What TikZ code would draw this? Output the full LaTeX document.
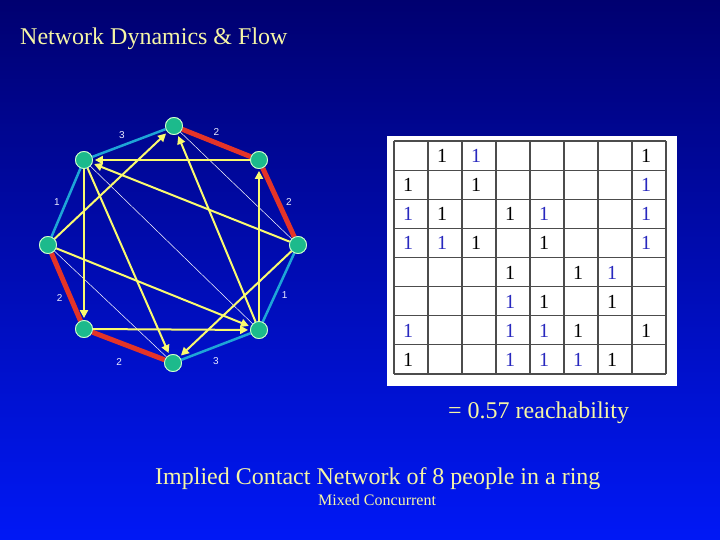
\documentclass[tikz,border=0pt]{standalone}
\usepackage{fontspec}
\setmainfont{Liberation Serif}
\newfontfamily\lblfont{Liberation Sans}
\usetikzlibrary{arrows.meta, positioning}
\definecolor{navytop}{RGB}{0,0,112}
\definecolor{bluebot}{RGB}{0,24,246}
\definecolor{pale}{RGB}{245,245,165}
\definecolor{person}{RGB}{28,186,140}
\definecolor{ringred}{RGB}{228,52,40}
\definecolor{ringcyan}{RGB}{30,165,215}
\definecolor{arrowyel}{RGB}{250,250,110}
\definecolor{cellblue}{RGB}{40,40,190}

\begin{document}
\begin{tikzpicture}[x=1pt, y=-1pt,
    person/.style={circle, fill=person, draw=green!20, line width=0.8pt, minimum size=17pt, inner sep=0pt},
    red2/.style={draw=ringred, line width=5pt},
    cyan1/.style={draw=ringcyan, line width=2.5pt},
    flow/.style={draw=arrowyel, line width=2pt, -{Triangle[length=8pt, width=8pt]}, shorten >=2pt},
    thin/.style={draw=white, line width=0.5pt},
    lbl/.style={font=\lblfont\fontsize{10}{11}\selectfont, text=white!92!blue, inner sep=1pt},
    big/.style={font=\fontsize{24}{28}\selectfont, text=pale, inner sep=0pt}]

    % fond bleu en degrade
    \shade[top color=navytop, bottom color=bluebot] (0,0) rectangle (720,540);
    \useasboundingbox (0,0) rectangle (720,540);

    % titre
    \node[big, anchor=base west] (title) at (20,45) {Network Dynamics \& Flow};

    % les 8 personnes sur l'anneau
    \node[person] (p1) at (174,126) {};
    \node[person] (p2) at (259,160) {};
    \node[person] (p3) at (298,245) {};
    \node[person] (p4) at (259,330) {};
    \node[person] (p5) at (173,363) {};
    \node[person] (p6) at (84,329) {};
    \node[person] (p7) at (48,245) {};
    \node[person] (p8) at (84,160) {};

    % liens de l'anneau avec leurs etiquettes
    \draw[red2] (p1) -- node[lbl, above=4pt] (e12) {2} (p2);
    \draw[red2] (p2) -- node[lbl, right=4pt] (e23) {2} (p3);
    \draw[cyan1] (p3) -- node[lbl, below right=2pt and 1pt] (e34) {1} (p4);
    \draw[cyan1] (p4) -- node[lbl, below=9pt] (e45) {3} (p5);
    \draw[red2] (p5) -- node[lbl, below left=9pt and 3pt] (e56) {2} (p6);
    \draw[red2] (p6) -- node[lbl, below left=4pt and 0pt] (e67) {2} (p7);
    \draw[cyan1] (p7) -- node[lbl, left=4pt] (e78) {1} (p8);
    \draw[cyan1] (p8) -- node[lbl, above left=2pt and 2pt] (e81) {3} (p1);

    % liens fins
    \draw[thin] (p1) -- (p3);
    \draw[thin] (p8) -- (p4);
    \draw[thin] (p7) -- (p5);

    % fleches de flux
    \draw[flow] (p2) -- (p8);
    \draw[flow] (p3) -- (p8);
    \draw[flow] (p7) -- (p1);
    \draw[flow] (p4) -- (p1);
    \draw[flow] (p4) -- (p2);
    \draw[flow] (p8) -- (p6);
    \draw[flow] (p8) -- (p5);
    \draw[flow] (p7) -- (p4);
    \draw[flow] (p6) -- (p4);
    \draw[flow] (p3) -- (p5);

    % redessiner les personnes au-dessus
    \foreach \p in {1,...,8}
        \node[person] at (p\p) {};

    % matrice d'atteignabilite
    \fill[white] (387,136) rectangle (677,386);
    \foreach \i in {0,...,8} {
        \draw[black!70, line width=1.2pt] (394+34*\i,141) -- (394+34*\i,374);
        \draw[black!70, line width=1.2pt] (394,141+29.125*\i) -- (666,141+29.125*\i);
    }
    \foreach \r/\c/\col in {1/2/black,1/3/cellblue,1/8/black,
                            2/1/black,2/3/black,2/8/cellblue,
                            3/1/cellblue,3/2/black,3/4/black,3/5/cellblue,3/8/cellblue,
                            4/1/cellblue,4/2/cellblue,4/3/black,4/5/black,4/8/cellblue,
                            5/4/black,5/6/black,5/7/cellblue,
                            6/4/cellblue,6/5/black,6/7/black,
                            7/1/cellblue,7/4/cellblue,7/5/cellblue,7/6/black,7/8/black,
                            8/1/black,8/4/cellblue,8/5/cellblue,8/6/cellblue,8/7/black}
        \node[text=\col, font=\fontsize{20}{22}\selectfont, inner sep=0pt]
            (m-\r-\c) at (408+34*\c-34, 156+29.125*\r-29.125) {1};

    % textes du bas
    \node[big, anchor=base west] (reach) at (448,418) {= 0.57 reachability};
    \node[big, anchor=base west] (caption) at (155,484) {Implied Contact Network of 8 people in a ring};
    \node[text=pale, font=\fontsize{16}{18}\selectfont, inner sep=0pt, anchor=base west] (sub) at (318,505) {Mixed Concurrent};
\end{tikzpicture}
\end{document}
